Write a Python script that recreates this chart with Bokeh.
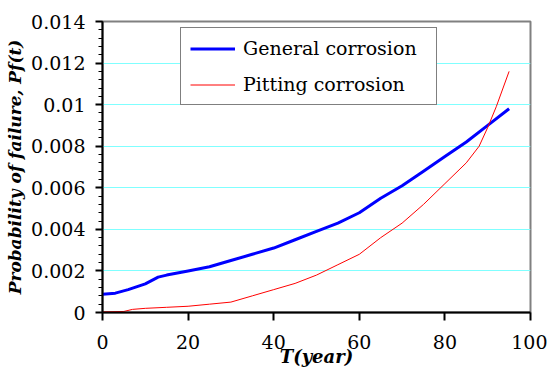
from bokeh.plotting import figure
from bokeh.models import FixedTicker, Legend, LegendItem, Range1d
from bokeh.embed import file_html
from bokeh.resources import INLINE

# --- data ---
years_general = [0, 3, 6, 10, 13, 15, 20, 25, 30, 35, 40, 45, 50, 55, 60, 65, 70, 75, 80, 85, 90, 95]
pf_general = [0.00088, 0.00093, 0.0011, 0.00138, 0.0017, 0.0018, 0.002, 0.0022, 0.0025, 0.0028,
              0.0031, 0.0035, 0.0039, 0.0043, 0.0048, 0.0055, 0.0061, 0.0068, 0.0075, 0.0082,
              0.0090, 0.0098]

years_pitting = [0, 5, 7, 10, 15, 20, 25, 30, 35, 40, 45, 50, 55, 60, 65, 70, 75, 80, 85, 88, 90, 92, 95]
pf_pitting = [0.00003, 0.00005, 0.00015, 0.0002, 0.00025, 0.0003, 0.0004, 0.0005, 0.0008, 0.0011,
              0.0014, 0.0018, 0.0023, 0.0028, 0.0036, 0.0043, 0.0052, 0.0062, 0.0072, 0.008,
              0.0089, 0.0099, 0.0116]

series_names = ["General corrosion", "Pitting corrosion"]
x_ticks = [0, 20, 40, 60, 80, 100]
y_ticks = [0, 0.002, 0.004, 0.006, 0.008, 0.01, 0.012, 0.014]
y_tick_labels = ["0", "0.002", "0.004", "0.006", "0.008", "0.01", "0.012", "0.014"]
y_minor_ticks = [i * 0.0004 for i in range(36)]
x_label = "T(year)"
y_label = "Probability of failure, Pf(t)"

SERIF = "DejaVu Serif"

p = figure(width=547, height=376, output_backend="svg", toolbar_location=None,
           x_range=Range1d(0, 100), y_range=Range1d(0, 0.014),
           min_border_left=102, min_border_right=17, min_border_top=21, min_border_bottom=64,
           background_fill_color="white", border_fill_color="white")

p.outline_line_color = "#808080"
p.outline_line_width = 2

# grid
p.xgrid.grid_line_color = None
p.ygrid.grid_line_color = "#80ffff"
p.ygrid.grid_line_width = 1
p.ygrid.ticker = FixedTicker(ticks=y_ticks)

# x axis
p.xaxis.ticker = FixedTicker(ticks=x_ticks)
p.xaxis.axis_line_color = "black"
p.xaxis.axis_line_width = 2
p.xaxis.major_tick_line_color = "black"
p.xaxis.major_tick_line_width = 2
p.xaxis.major_tick_out = 8
p.xaxis.major_tick_in = 0
p.xaxis.minor_tick_line_color = None
p.xaxis.major_label_text_font = SERIF
p.xaxis.major_label_text_font_size = "19px"
p.xaxis.major_label_text_color = "black"
p.xaxis.major_label_standoff = 14
p.xaxis.axis_label = x_label
p.xaxis.axis_label_text_font = SERIF
p.xaxis.axis_label_text_font_style = "bold italic"
p.xaxis.axis_label_text_font_size = "18px"
p.xaxis.axis_label_text_color = "black"
p.xaxis.axis_label_standoff = -6

# y axis
p.yaxis.ticker = FixedTicker(ticks=y_ticks, minor_ticks=y_minor_ticks)
p.yaxis.major_label_overrides = {t: s for t, s in zip(y_ticks, y_tick_labels)}
p.yaxis.axis_line_color = "black"
p.yaxis.axis_line_width = 2
p.yaxis.major_tick_line_color = "black"
p.yaxis.major_tick_line_width = 2
p.yaxis.major_tick_out = 7
p.yaxis.major_tick_in = 0
p.yaxis.minor_tick_line_color = "black"
p.yaxis.minor_tick_line_width = 1
p.yaxis.minor_tick_out = 4
p.yaxis.minor_tick_in = 0
p.yaxis.major_label_text_font = SERIF
p.yaxis.major_label_text_font_size = "19px"
p.yaxis.major_label_text_color = "black"
p.yaxis.major_label_standoff = 10
p.yaxis.axis_label = y_label
p.yaxis.axis_label_text_font = SERIF
p.yaxis.axis_label_text_font_style = "bold italic"
p.yaxis.axis_label_text_font_size = "17px"
p.yaxis.axis_label_text_color = "black"
p.yaxis.axis_label_standoff = 3

# lines
r_gen = p.line(years_general, pf_general, line_color="#0000ff", line_width=3)
r_pit = p.line(years_pitting, pf_pitting, line_color="#ff0000", line_width=1)

legend = Legend(items=[LegendItem(label=series_names[0], renderers=[r_gen]),
                       LegendItem(label=series_names[1], renderers=[r_pit])],
                location=(78, 207))
legend.border_line_color = "black"
legend.border_line_width = 1
legend.background_fill_color = "white"
legend.background_fill_alpha = 1
legend.label_text_font = SERIF
legend.label_text_font_size = "19px"
legend.label_text_color = "black"
legend.padding = 9
legend.spacing = 14
legend.label_height = 19
legend.glyph_height = 19
legend.glyph_width = 45
legend.label_standoff = 8
legend.label_width = 184
legend.margin = 0
p.add_layout(legend)

open("out.html", "w").write(file_html(p, INLINE))
